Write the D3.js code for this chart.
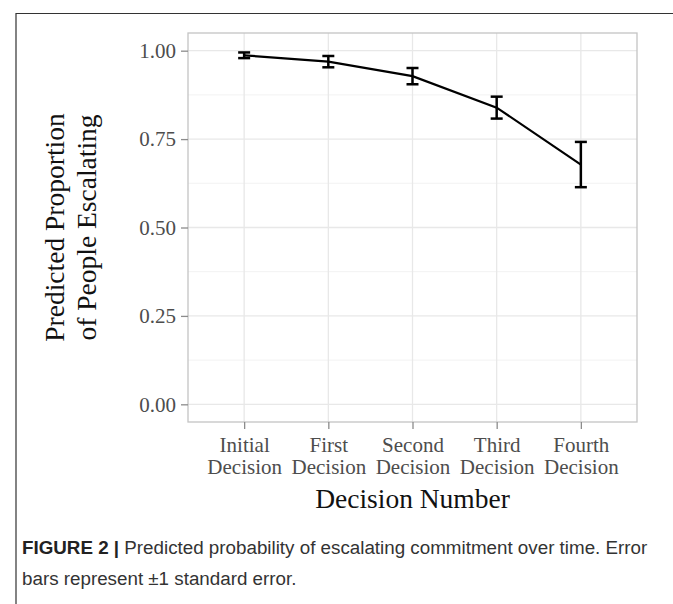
<!DOCTYPE html>
<html>
<head>
<meta charset="utf-8">
<script src="https://cdn.jsdelivr.net/npm/d3@7"></script>
<style>
  body { margin: 0; background: #fff; }
</style>
</head>
<body>
<div id="chart"></div>
<script>
// data
const decisions = ["Initial", "First", "Second", "Third", "Fourth"];
const proportion = [0.987, 0.969, 0.928, 0.839, 0.678];
const stdErr = [0.008, 0.016, 0.023, 0.031, 0.064];
const yTicks = [0, 0.25, 0.5, 0.75, 1];
const yMinor = [0.125, 0.375, 0.625, 0.875];

const data = decisions.map((d, i) => ({ decision: d, p: proportion[i], se: stdErr[i] }));

const W = 673, H = 604;
const panel = { left: 188, top: 33, right: 637, bottom: 422 };
const serif = "'Liberation Serif', 'DejaVu Serif', serif";

const svg = d3.select("#chart")
    .append("svg")
    .attr("width", W)
    .attr("height", H);

// figure frame (top + left rule)
svg.append("path")
    .attr("d", `M16,${H} V13.5 H${W}`)
    .attr("fill", "none")
    .attr("stroke", "#333")
    .attr("stroke-width", 1.2);

// scales
const x = d3.scalePoint()
    .domain(decisions)
    .range([panel.left, panel.right])
    .padding(0.667);

const y = d3.scaleLinear()
    .domain([-0.05, 1.05])
    .range([panel.bottom, panel.top]);

// grid
const grid = svg.append("g");
grid.selectAll(".minor")
    .data(yMinor)
    .enter()
    .append("line")
    .attr("x1", panel.left).attr("x2", panel.right)
    .attr("y1", d => y(d)).attr("y2", d => y(d))
    .attr("stroke", "#f2f2f2")
    .attr("stroke-width", 1);

grid.selectAll(".major-y")
    .data(yTicks)
    .enter()
    .append("line")
    .attr("x1", panel.left).attr("x2", panel.right)
    .attr("y1", d => y(d)).attr("y2", d => y(d))
    .attr("stroke", "#e8e8e8")
    .attr("stroke-width", 1.3);

grid.selectAll(".major-x")
    .data(decisions)
    .enter()
    .append("line")
    .attr("x1", d => x(d)).attr("x2", d => x(d))
    .attr("y1", panel.top).attr("y2", panel.bottom)
    .attr("stroke", "#e8e8e8")
    .attr("stroke-width", 1.3);

// panel border
svg.append("rect")
    .attr("x", panel.left)
    .attr("y", panel.top)
    .attr("width", panel.right - panel.left)
    .attr("height", panel.bottom - panel.top)
    .attr("fill", "none")
    .attr("stroke", "#c4c4c4")
    .attr("stroke-width", 1.3);

// axes
const yAxis = svg.append("g")
    .attr("transform", `translate(${panel.left},0)`)
    .call(d3.axisLeft(y).tickValues(yTicks).tickFormat(d3.format(".2f")).tickSize(7).tickPadding(5));

const xAxis = svg.append("g")
    .attr("transform", `translate(0,${panel.bottom})`)
    .call(d3.axisBottom(x).tickSize(7).tickFormat(""));

[yAxis, xAxis].forEach(g => {
    g.select(".domain").remove();
    g.selectAll(".tick line").attr("stroke", "#8c8c8c").attr("stroke-width", 1.3);
});

yAxis.selectAll("text")
    .style("font-family", serif)
    .style("font-size", "21px")
    .attr("fill", "#4d4d4d");

// two-line category labels
xAxis.selectAll(".tick")
    .append("text")
    .attr("text-anchor", "middle")
    .attr("fill", "#4d4d4d")
    .style("font-family", serif)
    .style("font-size", "21px")
    .selectAll("tspan")
    .data(d => [d, "Decision"])
    .enter()
    .append("tspan")
    .attr("x", 0)
    .attr("y", (d, i) => 30 + i * 22)
    .text(d => d);

// line
svg.append("path")
    .datum(data)
    .attr("fill", "none")
    .attr("stroke", "#000")
    .attr("stroke-width", 2.2)
    .attr("d", d3.line().x(d => x(d.decision)).y(d => y(d.p)));

// error bars
const capW = 6;
const eb = svg.append("g")
    .attr("stroke", "#000")
    .attr("stroke-width", 2.5)
    .selectAll("g")
    .data(data)
    .enter()
    .append("g");

eb.append("line")
    .attr("x1", d => x(d.decision)).attr("x2", d => x(d.decision))
    .attr("y1", d => y(d.p - d.se)).attr("y2", d => y(d.p + d.se));
eb.append("line")
    .attr("x1", d => x(d.decision) - capW).attr("x2", d => x(d.decision) + capW)
    .attr("y1", d => y(d.p + d.se)).attr("y2", d => y(d.p + d.se));
eb.append("line")
    .attr("x1", d => x(d.decision) - capW).attr("x2", d => x(d.decision) + capW)
    .attr("y1", d => y(d.p - d.se)).attr("y2", d => y(d.p - d.se));

// axis titles
svg.append("text")
    .attr("x", (panel.left + panel.right) / 2)
    .attr("y", 508)
    .attr("text-anchor", "middle")
    .style("font-family", serif)
    .style("font-size", "27.5px")
    .attr("fill", "#111")
    .text("Decision Number");

const yTitle = svg.append("text")
    .attr("transform", `translate(0,${(panel.top + panel.bottom) / 2}) rotate(-90)`)
    .attr("text-anchor", "middle")
    .style("font-family", serif)
    .style("font-size", "27.5px")
    .attr("fill", "#111");
yTitle.append("tspan").attr("x", 0).attr("y", 64).text("Predicted Proportion");
yTitle.append("tspan").attr("x", 0).attr("y", 96).text("of People Escalating");

// caption
const cap = svg.append("text")
    .style("font-family", "'Liberation Sans', Arial, sans-serif")
    .style("font-size", "18.8px")
    .attr("fill", "#333");
const l1 = cap.append("tspan").attr("x", 22).attr("y", 554);
l1.append("tspan").attr("font-weight", "bold").attr("fill", "#222").text("FIGURE 2 | ");
l1.append("tspan").text("Predicted probability of escalating commitment over time. Error");
cap.append("tspan").attr("x", 22).attr("y", 585).text("bars represent \u00B11 standard error.");
</script>
</body>
</html>
